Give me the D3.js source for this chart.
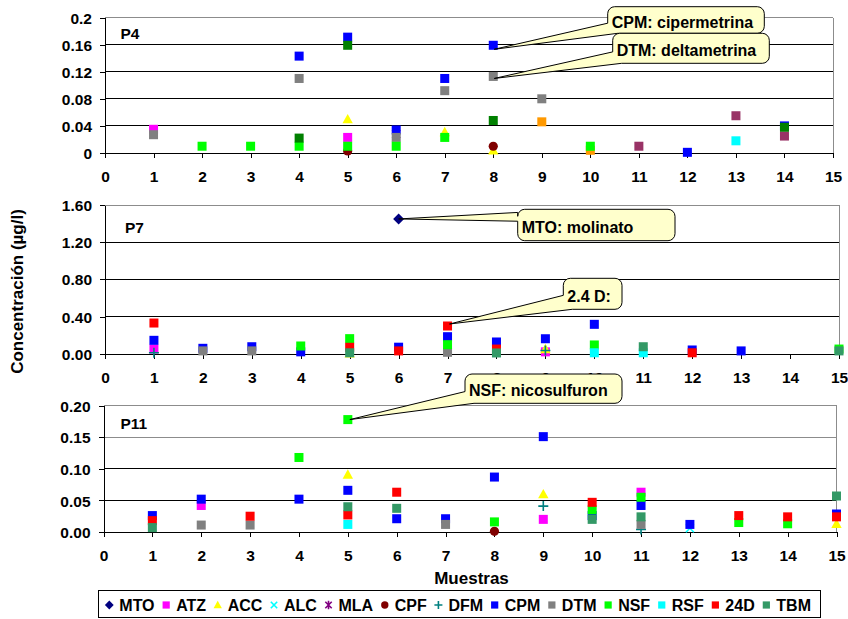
<!DOCTYPE html>
<html><head><meta charset="utf-8">
<script src="https://cdn.jsdelivr.net/npm/d3@7"></script>
<style>
body{margin:0;background:#fff}
svg{display:block}
text{font-family:"Liberation Sans",Arial,sans-serif;font-weight:bold;fill:#000}
</style>
</head><body><svg id="c" width="848" height="619"></svg>
<script>
// ---------- DATA ----------
const muestras = [0,1,2,3,4,5,6,7,8,9,10,11,12,13,14,15];

const ticksP4 = [0,0.04,0.08,0.12,0.16,0.2];
const labelsP4 = ['0','0.04','0.08','0.12','0.16','0.2'];
const ticksP7 = [0,0.4,0.8,1.2,1.6];
const labelsP7 = ['0.00','0.40','0.80','1.20','1.60'];
const ticksP11 = [0,0.05,0.10,0.15,0.20];
const labelsP11 = ['0.00','0.05','0.10','0.15','0.20'];

const legendKeys = ['MTO','ATZ','ACC','ALC','MLA','CPF','DFM','CPM','DTM','NSF','RSF','24D','TBM'];

// P4
const p4_ATZ = [[1,0.035],[5,0.023]];
const p4_ACC = [[5,0.050],[7,0.031],[8,0.004]];
const p4_MLA = [[6,0.028]];
const p4_CPF = [[5,0.003],[8,0.010]];
const p4_ORG = [[9,0.046],[10,0.004]];
const p4_PLM = [[11,0.010],[13,0.055],[14,0.025]];
const p4_CPM = [[4,0.143],[5,0.171],[6,0.034],[7,0.110],[8,0.159],[12,0.001],[14,0.040]];
const p4_DTM = [[1,0.027],[4,0.110],[6,0.023],[7,0.092],[8,0.113],[9,0.080]];
const p4_NSF = [[2,0.010],[3,0.010],[4,0.010],[5,0.010],[6,0.010],[7,0.023],[10,0.010]];
const p4_RSF = [[13,0.018]];
const p4_TBM = [[4,0.022],[5,0.159],[8,0.048],[14,0.038]];

// P7
const p7_MTO = [[6,1.45]];
const p7_ATZ = [[1,0.05],[9,0.02]];
const p7_ACC = [[5,0.003],[9,0.05]];
const p7_DFM = [[1,0.01],[9,0.035]];
const p7_CPM = [[1,0.144],[2,0.058],[3,0.075],[4,0.02],[6,0.07],[7,0.183],[8,0.126],[9,0.161],[10,0.316],[12,0.04],[13,0.03]];
const p7_DTM = [[2,0.03],[3,0.03],[7,0.015]];
const p7_NSF = [[4,0.083],[5,0.162],[7,0.097],[10,0.094],[15,0.05]];
const p7_RSF = [[10,0.01],[11,0.01]];
const p7_24D = [[1,0.33],[5,0.069],[6,0.03],[7,0.298],[8,0.05],[12,0.01]];
const p7_TBM = [[5,0.01],[8,0.008],[11,0.075],[15,0.03]];

// P11
const p11_ATZ = [[2,0.042],[9,0.02],[11,0.063]];
const p11_ACC = [[5,0.091],[9,0.06],[15,0.013]];
const p11_ALC = [[12,0.006]];
const p11_CPF = [[8,0.001]];
const p11_DFM = [[9,0.041],[11,0.004]];
const p11_CPM = [[1,0.026],[2,0.052],[4,0.052],[5,0.066],[6,0.021],[7,0.021],[8,0.087],[9,0.151],[10,0.026],[11,0.042],[12,0.012],[15,0.0285]];
const p11_DTM = [[2,0.011],[3,0.011],[7,0.012],[11,0.012]];
const p11_NSF = [[4,0.118],[5,0.178],[8,0.016],[10,0.035],[11,0.055],[13,0.015],[14,0.013]];
const p11_RSF = [[5,0.012]];
const p11_24D = [[1,0.018],[3,0.025],[5,0.027],[6,0.063],[10,0.047],[13,0.026],[14,0.024],[15,0.024]];
const p11_TBM = [[1,0.007],[5,0.04],[6,0.0375],[10,0.02],[11,0.024],[15,0.057]];

// ---------- STYLES ----------
const styles = {
  MTO:{shape:'diamond',color:'#000080'},
  ATZ:{shape:'square',color:'#FF00FF'},
  ACC:{shape:'triangle',color:'#FFFF00'},
  ALC:{shape:'x',color:'#00FFFF'},
  MLA:{shape:'star',color:'#800080'},
  CPF:{shape:'circle',color:'#800000'},
  DFM:{shape:'plus',color:'#008080'},
  CPM:{shape:'square',color:'#0000FF'},
  DTM:{shape:'square',color:'#808080'},
  NSF:{shape:'square',color:'#00FF00'},
  RSF:{shape:'square',color:'#00FFFF'},
  '24D':{shape:'square',color:'#FF0000'},
  TBM:{shape:'square',color:'#339966'},
  ORG:{shape:'square',color:'#FF9900'},
  PLM:{shape:'square',color:'#993366'},
  TBMd:{shape:'square',color:'#008000'}
};

const panels = [
  {name:'P4', xr:[105,833], yr:[153,17.5], dom:[0,0.2], ticks:ticksP4, labels:labelsP4, lab:[120.5,33.5], grey:[0.2],
   series:[['ATZ',p4_ATZ],['ACC',p4_ACC],['MLA',p4_MLA],['CPF',p4_CPF],['ORG',p4_ORG],['PLM',p4_PLM],['CPM',p4_CPM],['DTM',p4_DTM],['NSF',p4_NSF],['RSF',p4_RSF],['TBMd',p4_TBM]]},
  {name:'P7', xr:[105,839], yr:[353.7,205], dom:[0,1.6], ticks:ticksP7, labels:labelsP7, lab:[125,227], grey:[1.6],
   series:[['MTO',p7_MTO],['ATZ',p7_ATZ],['ACC',p7_ACC],['DFM',p7_DFM],['CPM',p7_CPM],['DTM',p7_DTM],['NSF',p7_NSF],['RSF',p7_RSF],['24D',p7_24D],['TBM',p7_TBM]]},
  {name:'P11', xr:[103.5,836.5], yr:[532,405.7], dom:[0,0.2], ticks:ticksP11, labels:labelsP11, lab:[120.5,423.5], grey:[0.2,0.15],
   series:[['ATZ',p11_ATZ],['ACC',p11_ACC],['ALC',p11_ALC],['CPF',p11_CPF],['DFM',p11_DFM],['CPM',p11_CPM],['DTM',p11_DTM],['NSF',p11_NSF],['RSF',p11_RSF],['24D',p11_24D],['TBM',p11_TBM]]}
];

const svg = d3.select('#c');

function marker(g, shape, color, cx, cy, s) {
  s = s || 1;
  if (shape === 'square') {
    const h = 4.5*s;
    g.append('rect').attr('x',cx-h).attr('y',cy-h).attr('width',2*h).attr('height',2*h).attr('fill',color);
  } else if (shape === 'diamond') {
    const h = 5.5*s;
    g.append('path').attr('d',`M${cx},${cy-h}L${cx+h},${cy}L${cx},${cy+h}L${cx-h},${cy}Z`).attr('fill',color);
  } else if (shape === 'triangle') {
    const h = 5.2*s;
    g.append('path').attr('d',`M${cx},${cy-h}L${cx+h},${cy+h*0.8}L${cx-h},${cy+h*0.8}Z`).attr('fill',color);
  } else if (shape === 'circle') {
    g.append('circle').attr('cx',cx).attr('cy',cy).attr('r',4.6*s).attr('fill',color);
  } else if (shape === 'plus') {
    const h = 5*s;
    g.append('path').attr('d',`M${cx-h},${cy}H${cx+h}M${cx},${cy-h}V${cy+h}`).attr('stroke',color).attr('stroke-width',1.6).attr('fill','none');
  } else if (shape === 'x') {
    const h = 4*s;
    g.append('path').attr('d',`M${cx-h},${cy-h}L${cx+h},${cy+h}M${cx-h},${cy+h}L${cx+h},${cy-h}`).attr('stroke',color).attr('stroke-width',1.6).attr('fill','none');
  } else if (shape === 'star') {
    const h = 4*s;
    g.append('path').attr('d',`M${cx-h},${cy-h}L${cx+h},${cy+h}M${cx-h},${cy+h}L${cx+h},${cy-h}M${cx},${cy-h-1}V${cy+h+1}`).attr('stroke',color).attr('stroke-width',1.6).attr('fill','none');
  }
}

const scales = {};
panels.forEach(p => {
  const x = d3.scaleLinear().domain([0,15]).range(p.xr);
  const y = d3.scaleLinear().domain(p.dom).range(p.yr);
  scales[p.name] = {x,y};
  const g = svg.append('g');
  p.ticks.slice(1).forEach(t => {
    g.append('line').attr('x1',p.xr[0]).attr('x2',p.xr[1]).attr('y1',y(t)).attr('y2',y(t))
      .attr('stroke', p.grey.includes(t) ? '#8c8c8c' : '#000').attr('stroke-width', 1)
      .attr('shape-rendering','crispEdges');
  });
  g.append('line').attr('x1',p.xr[1]).attr('x2',p.xr[1]).attr('y1',p.yr[1]).attr('y2',p.yr[0])
    .attr('stroke','#8c8c8c').attr('shape-rendering','crispEdges');
  const ax = g.append('g').attr('transform',`translate(0,${p.yr[0]})`)
    .call(d3.axisBottom(x).tickValues(muestras).tickFormat(d3.format('d')).tickSize(5).tickSizeOuter(0));
  ax.selectAll('text').attr('y',23.5).attr('dy','0.36em');
  const ay = g.append('g').attr('transform',`translate(${p.xr[0]},0)`)
    .call(d3.axisLeft(y).tickValues(p.ticks).tickFormat((d,i)=>p.labels[i]).tickSize(5).tickSizeOuter(0).tickPadding(8));
  ay.selectAll('text').attr('dy','0.36em');
  [ax,ay].forEach(a => {
    a.attr('font-family',null).attr('font-size',null);
    a.selectAll('text').style('font-size','15.5px');
    a.selectAll('path,line').attr('stroke','#000').attr('shape-rendering','crispEdges');
  });
  g.append('text').attr('x',p.lab[0]).attr('y',p.lab[1]).attr('dy','0.36em').style('font-size','15.5px').text(p.name);
  p.series.forEach(([key,data]) => {
    const st = styles[key];
    const sg = g.append('g');
    data.forEach(d => marker(sg, st.shape, st.color, x(d[0]), y(d[1])));
  });
});

// ---------- CALLOUTS ----------
function calloutPath(b, tip, tail) {
  const x0=b[0], y0=b[1], x1=b[0]+b[2], y1=b[1]+b[3], r=7;
  let d = `M${x0+r},${y0}H${x1-r}A${r},${r} 0 0 1 ${x1},${y0+r}V${y1-r}A${r},${r} 0 0 1 ${x1-r},${y1}`;
  if (tail.type === 'corner') {
    const by = y0 + tail.a*b[3], bx = x0 + tail.b;
    d += `H${bx}L${tip[0]},${tip[1]}L${x0},${by}V${y0+r}A${r},${r} 0 0 1 ${x0+r},${y0}Z`;
  } else {
    const ya = y0 + tail.a*b[3], yb = y0 + tail.b*b[3];
    d += `H${x0+r}A${r},${r} 0 0 1 ${x0},${y1-r}V${yb}L${tip[0]},${tip[1]}L${x0},${ya}V${y0+r}A${r},${r} 0 0 1 ${x0+r},${y0}Z`;
  }
  return d;
}
const callouts = [
  {panel:'P4', text:'CPM: cipermetrina', pt:p4_CPM[4], off:[1,4], box:[607.7,6.7,156.6,26.6], tail:{type:'corner',a:0.62,b:10}},
  {panel:'P4', text:'DTM: deltametrina', pt:p4_DTM[4], off:[1,2], box:[612.7,33.3,156.6,30], tail:{type:'corner',a:0.62,b:9}},
  {panel:'P7', text:'MTO: molinato', pt:p7_MTO[0], off:[0,0], box:[517.7,209.3,157.3,31.4], tail:{type:'left',a:0.1,b:0.38}},
  {panel:'P7', text:'2.4 D:', pt:p7_24D[3], off:[2,-2], box:[563.3,278.3,58.7,31], tail:{type:'corner',a:0.55,b:9}},
  {panel:'P11', text:'NSF: nicosulfuron', pt:p11_NSF[1], off:[2,0], box:[465,374,157,29.3], tail:{type:'corner',a:0.6,b:9}}
];
callouts.forEach(c => {
  const s = scales[c.panel];
  const tip = [s.x(c.pt[0])+c.off[0], s.y(c.pt[1])+c.off[1]];
  const g = svg.append('g');
  g.append('path').attr('d',calloutPath(c.box,tip,c.tail)).attr('fill','#FFFFCC').attr('stroke','#000').attr('stroke-width',1);
  g.append('text').attr('x',c.box[0]+4).attr('y',c.box[1]+c.box[3]/2+2).attr('dy','0.36em')
    .style('font-size','16px').text(c.text);
});

// ---------- TITLES ----------
svg.append('text').attr('transform','translate(17,291.5) rotate(-90)').attr('text-anchor','middle').attr('dy','0.36em')
  .style('font-size','17px').text('Concentración (µg/l)');
svg.append('text').attr('x',471.5).attr('y',578).attr('text-anchor','middle').attr('dy','0.36em')
  .style('font-size','17px').text('Muestras');

// ---------- LEGEND ----------
const lg = svg.append('g');
lg.append('rect').attr('x',98.5).attr('y',590.5).attr('width',722).attr('height',27).attr('fill','#fff').attr('stroke','#000')
  .attr('shape-rendering','crispEdges');
const ly = 605;
const texts = legendKeys.map(k => lg.append('text').attr('y',ly).attr('dy','0.36em').style('font-size','16px').text(k));
const widths = texts.map(t => t.node().getComputedTextLength());
const startX = 109.3, endX = 811, g1 = 10;
const g2 = (endX - startX - d3.sum(widths) - g1*legendKeys.length) / (legendKeys.length - 1);
let cx = startX;
legendKeys.forEach((k,i) => {
  const st = styles[k];
  marker(lg, st.shape, st.color, cx, ly, 0.8);
  texts[i].attr('x', cx + g1);
  cx += g1 + widths[i] + g2;
});
</script>
</body></html>
